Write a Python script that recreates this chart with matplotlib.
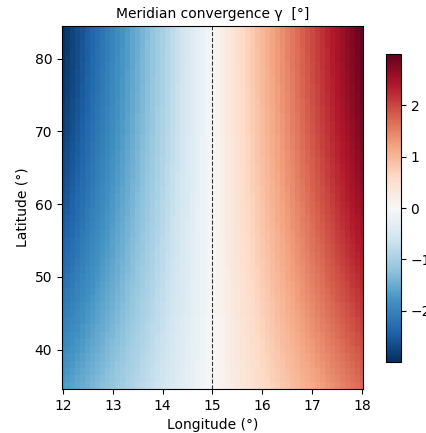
"""
Meridian convergence over a UTM-like zone (central meridian 15E)
"""

import numpy as np
import matplotlib
matplotlib.use("Agg")
import matplotlib.pyplot as plt

# grid
lon0 = 15.0
lon = np.linspace(12, 18, 61)
lat = np.arange(35, 85, 1.0)

# meridian convergence (deg), gamma = dlon * sin(lat)
LON, LAT = np.meshgrid(lon, lat)
gamma = (LON - lon0) * np.sin(np.radians(LAT))
vmax = 3.0

fig = plt.figure(figsize=(4.26, 4.33), dpi=100)
ax = fig.add_axes([0.1455, 0.1016, 0.7066, 0.8384])
cax = fig.add_axes([0.906, 0.164, 0.035, 0.711])

pc = ax.pcolormesh(lon, lat, gamma, cmap="RdBu_r", vmin=-vmax, vmax=vmax,
                   shading="nearest")
ax.axvline(lon0, color="black", linestyle="--", linewidth=0.8, alpha=0.8)

ax.set_xlim(11.98, 18.02)
ax.set_ylim(34.6, 84.5)
ax.set_xticks([12, 13, 14, 15, 16, 17, 18])
ax.set_yticks([40, 50, 60, 70, 80])
ax.set_xlabel("Longitude (°)")
ax.set_ylabel("Latitude (°)")
ax.set_title("Meridian convergence γ  [°]", fontsize=10)

cb = fig.colorbar(pc, cax=cax)
cb.set_ticks([-2, -1, 0, 1, 2])

fig.savefig("out.png", dpi=100)
